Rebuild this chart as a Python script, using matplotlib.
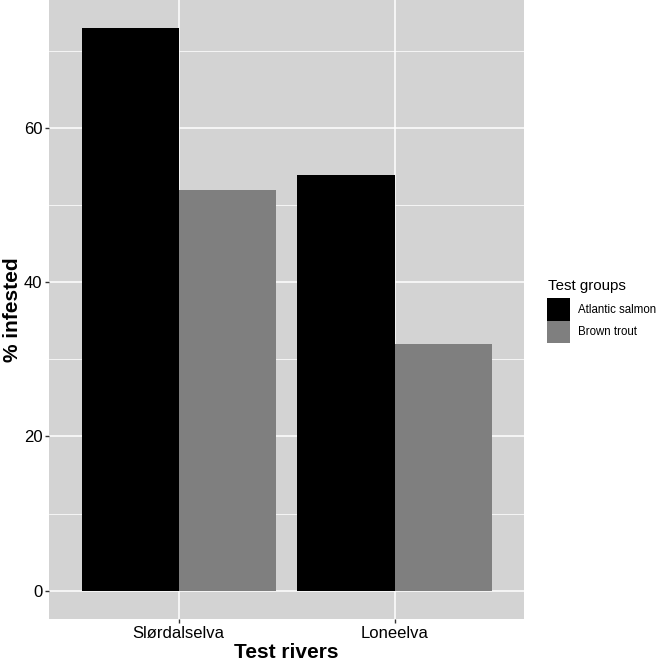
import numpy as np
import matplotlib.pyplot as plt

# data
rivers = ['Slørdalselva', 'Loneelva']
groups = ['Atlantic salmon', 'Brown trout']
salmon = [73, 54]
trout = [52, 32]
colors = ['#000000', '#7f7f7f']

plt.rcParams['font.family'] = ['Liberation Sans', 'DejaVu Sans']

fig = plt.figure(figsize=(6.57, 6.62), dpi=100)
ax = fig.add_axes([49.3 / 657, 1 - 618.7 / 662, (524 - 49.3) / 657, 618.7 / 662])

x = np.arange(1, len(rivers) + 1)
w = 0.45
ax.bar(x - w / 2, salmon, width=w, color=colors[0], label=groups[0], zorder=3)
ax.bar(x + w / 2, trout, width=w, color=colors[1], label=groups[1], zorder=3)

ax.set_facecolor('#d3d3d3')
ax.set_xlim(0.4, 2.6)
ax.set_ylim(-3.65, 76.65)
ax.set_yticks([0, 20, 40, 60])
ax.set_yticks([10, 30, 50, 70], minor=True)
ax.set_xticks(x)
ax.set_xticklabels(rivers)
ax.grid(which='major', color='white', linewidth=1.1, zorder=0)
ax.grid(which='minor', axis='y', color='white', linewidth=0.55, zorder=0)
for s in ax.spines.values():
    s.set_visible(False)
ax.tick_params(which='major', length=3, width=1, color='#333333', labelsize=12, labelcolor='black', pad=2)
ax.tick_params(which='minor', length=0)

ax.set_xlabel('Test rivers', fontsize=15, fontweight='bold', labelpad=2)
ax.set_ylabel('% infested', fontsize=15, fontweight='bold', labelpad=1)

# legend title drawn separately so the gap above the keys matches
fig.text(548 / 657, 1 - 290 / 662, 'Test groups', fontsize=10.8, va='baseline', ha='left')
leg = fig.legend(loc='upper left', bbox_to_anchor=(547 / 657, 1 - 298 / 662),
                 frameon=False, fontsize=8.3, handlelength=2.0,
                 handleheight=2.65, handletextpad=0.65, labelspacing=0.0, borderpad=0,
                 borderaxespad=0)

fig.savefig('out.png', dpi=100)
